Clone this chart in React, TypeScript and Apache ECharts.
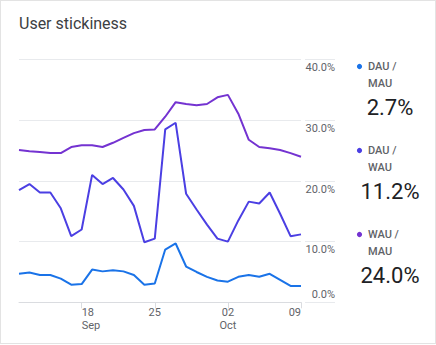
import React, { useEffect, useRef } from "react";
import * as echarts from "echarts";

const title = "User stickiness";

const dates = [
  "12 Sep", "13 Sep", "14 Sep", "15 Sep", "16 Sep", "17 Sep", "18 Sep",
  "19 Sep", "20 Sep", "21 Sep", "22 Sep", "23 Sep", "24 Sep", "25 Sep",
  "26 Sep", "27 Sep", "28 Sep", "29 Sep", "30 Sep", "01 Oct", "02 Oct",
  "03 Oct", "04 Oct", "05 Oct", "06 Oct", "07 Oct", "08 Oct", "09 Oct",
];
const labeledDates = ["18 Sep", "25 Sep", "02 Oct", "09 Oct"];

const seriesNames = ["DAU / MAU", "DAU / WAU", "WAU / MAU"];

const dauMau = [
  4.7, 4.9, 4.5, 4.5, 3.9, 2.9, 3.0, 5.4, 5.1, 5.3, 5.1, 4.5, 2.9, 3.1,
  8.7, 9.7, 5.9, 5.0, 4.2, 3.6, 3.4, 4.2, 4.5, 4.2, 4.7, 3.7, 2.7, 2.7,
];
const dauWau = [
  18.5, 19.5, 18.1, 18.1, 15.5, 10.9, 12.0, 21.0, 19.5, 20.5, 18.6, 15.9, 9.9, 10.5,
  28.5, 29.6, 17.9, 15.3, 12.8, 10.5, 10.0, 13.5, 16.6, 16.3, 18.1, 14.6, 10.9, 11.2,
];
const wauMau = [
  25.1, 24.9, 24.8, 24.6, 24.6, 25.6, 25.9, 25.9, 25.6, 26.3, 27.1, 27.9, 28.4, 28.5,
  30.6, 33.0, 32.7, 32.5, 32.7, 33.8, 34.2, 31.1, 26.8, 25.6, 25.4, 25.1, 24.6, 24.0,
];

const yTicks = [0, 10, 20, 30, 40];

const colors = ["#1a73e8", "#4b3fe3", "#7433d1"];

export default function App() {
  const ref = useRef<HTMLDivElement>(null);

  useEffect(() => {
    if (!ref.current) return;
    const chart = echarts.init(ref.current, undefined, { renderer: "svg" });
    const all = [dauMau, dauWau, wauMau];

    const xData = dates.map((d) => {
      const li = labeledDates.indexOf(d);
      if (li === 0) return { value: d, textStyle: { align: "left" } };
      if (li === labeledDates.length - 1) return { value: d, textStyle: { align: "right" } };
      return d;
    });
    const showIdx = (index: number) => labeledDates.indexOf(dates[index]) >= 0;
    const xFmt = (v: string) => {
      const li = labeledDates.indexOf(v);
      const [day, mon] = v.split(" ");
      const prevMon = li > 0 ? labeledDates[li - 1].split(" ")[1] : "";
      return mon !== prevMon ? day + "\n" + mon : day;
    };

    const legendGraphics: any[] = [];
    seriesNames.forEach((name, i) => {
      const [a, b] = name.split(" / ");
      const y0 = 66.5 + i * 84;
      const last = all[i][all[i].length - 1];
      legendGraphics.push(
        { type: "circle", shape: { cx: 359.5, cy: y0, r: 2.6 }, style: { fill: colors[i] } },
        { type: "text", x: 368, y: y0, style: { text: a + " /", fontSize: 11, fontWeight: 500, fontFamily: "Roboto", fill: "#5f6368", verticalAlign: "middle", align: "left" } },
        { type: "text", x: 368, y: y0 + 17, style: { text: b, fontSize: 11, fontWeight: 500, fontFamily: "Roboto", fill: "#5f6368", verticalAlign: "middle", align: "left" } },
        { type: "text", x: 390, y: y0 + 40.5, style: { text: last.toFixed(1) + "%", fontSize: 22, fontFamily: "Roboto", fill: "#202124", verticalAlign: "middle", align: "center" } }
      );
    });

    const fmt = (v: number) => (v === 0 ? `{b|${v.toFixed(1)}%}` : `{a|${v.toFixed(1)}%}`);

    chart.setOption({
      animation: false,
      title: {
        text: title,
        left: 14,
        top: 10,
        textStyle: { fontFamily: "Roboto", fontSize: 16, fontWeight: 400, color: "#3c4043" },
      },
      grid: [
        { left: 19, right: 135, top: 59.7, bottom: 42.7 },
        { left: 305, width: 30, top: 59.7, bottom: 42.7 },
      ],
      xAxis: [
        {
          type: "category",
          gridIndex: 0,
          data: xData,
          boundaryGap: false,
          axisLine: { lineStyle: { color: "#dadce0", width: 1 } },
          axisTick: { show: true, interval: showIdx, length: 6, lineStyle: { color: "#dadce0" } },
          axisLabel: {
            interval: showIdx,
            formatter: xFmt,
            fontFamily: "Roboto",
            fontSize: 11,
            lineHeight: 13,
            color: "#5f6368",
            margin: 4,
            verticalAlign: "top",
          },
          splitLine: { show: false },
        },
        { type: "value", gridIndex: 1, show: false, min: 0, max: 1 },
      ],
      yAxis: [
        {
          type: "value",
          gridIndex: 0,
          min: yTicks[0],
          max: yTicks[yTicks.length - 1],
          interval: 10,
          axisLabel: { show: false },
          axisLine: { show: false },
          axisTick: { show: false },
          splitLine: { lineStyle: { color: "#e8eaed", width: 1 } },
        },
        {
          type: "value",
          gridIndex: 1,
          position: "right",
          min: yTicks[0],
          max: yTicks[yTicks.length - 1],
          interval: 10,
          axisLine: { show: false },
          axisTick: { show: false },
          splitLine: { lineStyle: { color: "#e8eaed", width: 1 } },
          axisLabel: {
            inside: true,
            margin: 0,
            formatter: fmt,
            verticalAlign: "middle",
            rich: {
              a: { fontFamily: "Roboto", fontSize: 11, color: "#5f6368", padding: [16, 0, 0, 0] },
              b: { fontFamily: "Roboto", fontSize: 11, color: "#5f6368", padding: [0, 0, 16, 0] },
            },
          },
        },
      ],
      series: all.map((d, i) => ({
        type: "line",
        name: seriesNames[i],
        xAxisIndex: 0,
        yAxisIndex: 0,
        data: d,
        symbol: "none",
        lineStyle: { color: colors[i], width: 2 },
        itemStyle: { color: colors[i] },
        z: 3 - i,
      })),
      graphic: legendGraphics,
    });

    return () => chart.dispose();
  }, []);

  return (
    <div style={{ position: "absolute", left: 0, top: 0, width: 436, height: 345, background: "#fff" }}>
      <div
        style={{
          position: "absolute",
          left: 0,
          top: 0,
          width: 436,
          height: 344,
          boxSizing: "border-box",
          border: "1px solid #e3e3e3",
        }}
      />
      <div ref={ref} style={{ position: "absolute", left: 0, top: 0, width: 436, height: 345 }} />
    </div>
  );
}
